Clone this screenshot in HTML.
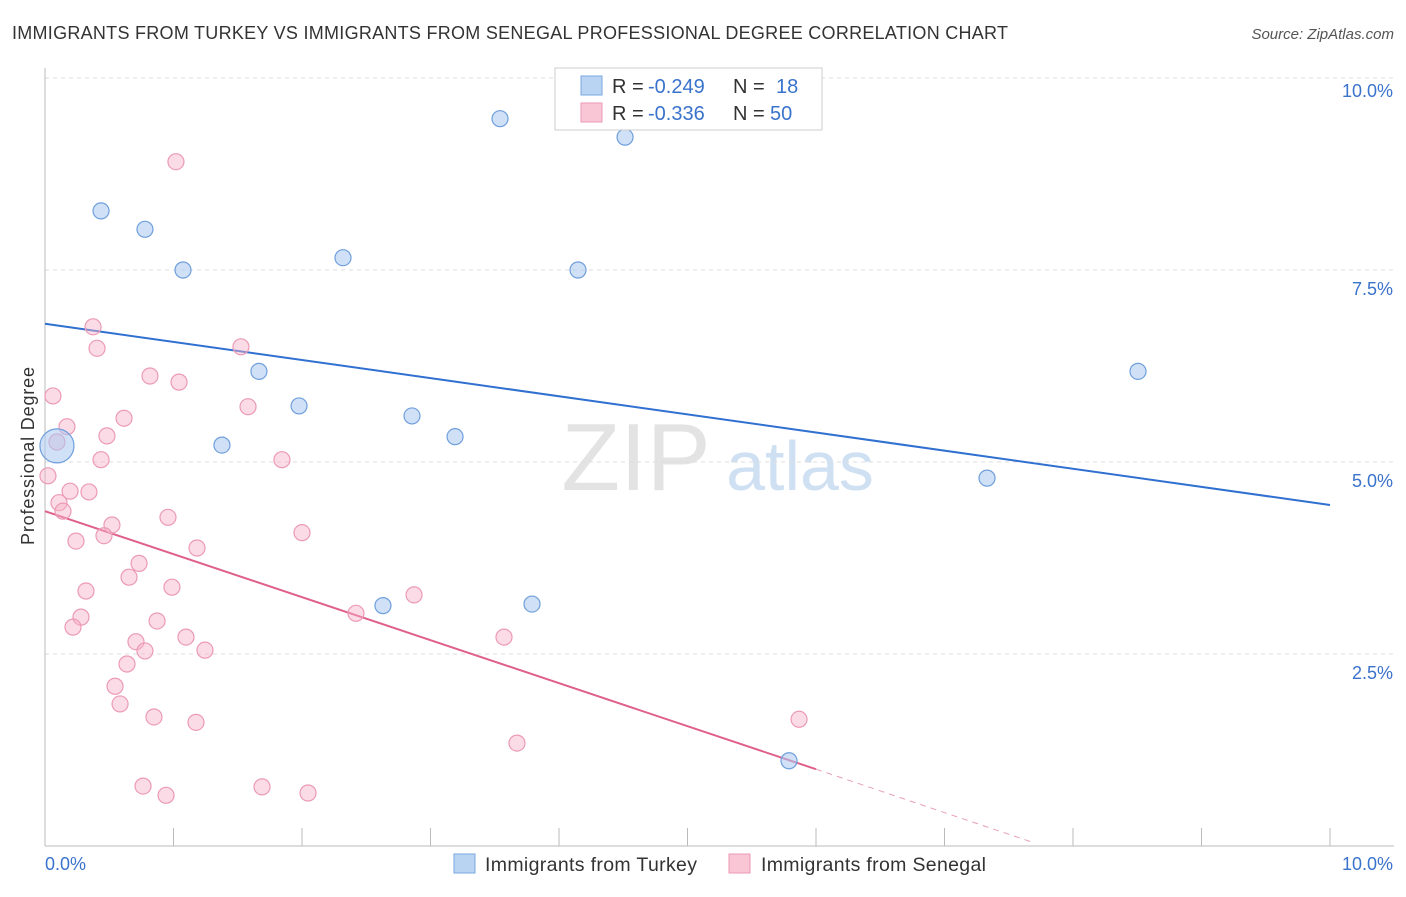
<!DOCTYPE html>
<html><head><meta charset="utf-8"><style>
body{margin:0;background:#fff;font-family:"Liberation Sans",sans-serif;}
svg text{font-family:"Liberation Sans",sans-serif;}
</style></head><body>
<svg id="chart" width="1406" height="892" xmlns="http://www.w3.org/2000/svg">
<text x="12" y="39" font-size="18" fill="#333" textLength="996">IMMIGRANTS FROM TURKEY VS IMMIGRANTS FROM SENEGAL PROFESSIONAL DEGREE CORRELATION CHART</text>
<text x="1394" y="39" font-size="15" fill="#555" font-style="italic" text-anchor="end">Source: ZipAtlas.com</text>
<text x="0" y="0" font-size="18" fill="#333" textLength="178" transform="translate(34 545) rotate(-90)">Professional Degree</text>
<g><text x="636" y="490" font-size="96" fill="#d8d8d8" text-anchor="middle" font-family="Liberation Serif" opacity="0.7">ZIP</text><text x="800" y="490" font-size="70" fill="#bcd3ee" text-anchor="middle" opacity="0.7">atlas</text></g>
<g id="grid"></g><g id="axes"></g><g id="lines"></g><g id="pts"></g>
<g>
<rect x="555" y="68" width="267" height="62" fill="#fff" stroke="#ccc"/>
<rect x="581" y="76" width="21" height="19" fill="#b9d3f3" stroke="#7aa7e0"/>
<rect x="581" y="103" width="21" height="19" fill="#f9c6d6" stroke="#ec9ab5"/>
<text x="612" y="93" font-size="20" fill="#333">R =</text>
<text x="648" y="93" font-size="20" fill="#3a73cc">-0.249</text>
<text x="733" y="93" font-size="20" fill="#333">N =</text>
<text x="776" y="93" font-size="20" fill="#3a73cc">18</text>
<text x="612" y="120" font-size="20" fill="#333">R =</text>
<text x="648" y="120" font-size="20" fill="#3a73cc">-0.336</text>
<text x="733" y="120" font-size="20" fill="#333">N =</text>
<text x="770" y="120" font-size="20" fill="#3a73cc">50</text>
</g>
<g>
<rect x="454" y="854" width="21" height="19" fill="#b9d3f3" stroke="#7aa7e0"/>
<text x="485" y="871" font-size="19.5" fill="#333" textLength="212">Immigrants from Turkey</text>
<rect x="729" y="854" width="21" height="19" fill="#f9c6d6" stroke="#ec9ab5"/>
<text x="761" y="871" font-size="19.5" fill="#333" textLength="225">Immigrants from Senegal</text>
</g>
</svg>
<script>
const yTicks=[2.5,5.0,7.5,10.0];
const yTickLabels=["2.5%","5.0%","7.5%","10.0%"];
const xTickLabels=["0.0%","10.0%"];
const turkeyX=[0.436,0.778,1.074,2.319,3.541,4.148,4.514,1.665,1.977,2.856,3.191,1.377,7.331,8.506,2.630,3.790,5.790];
const turkeyY=[8.27,8.03,7.50,7.66,9.47,7.50,9.23,6.18,5.73,5.60,5.33,5.22,4.79,6.18,3.13,3.15,1.11];
const turkeyBig=[0.093,5.21];
const senegalX=[1.019,0.374,0.405,1.525,0.817,1.043,0.062,1.580,0.615,0.171,0.482,0.093,0.436,1.844,0.023,0.195,0.342,0.109,0.140,0.957,0.521,0.459,0.241,2.000,1.183,0.732,0.654,0.988,0.319,2.872,0.280,2.420,0.872,0.218,1.097,0.708,3.572,0.778,1.245,0.638,0.545,0.584,0.848,1.175,5.868,3.673,0.763,0.942,1.689,2.047];
const senegalY=[8.91,6.76,6.48,6.50,6.12,6.04,5.86,5.72,5.57,5.46,5.34,5.26,5.03,5.03,4.82,4.62,4.61,4.47,4.36,4.28,4.18,4.04,3.97,4.08,3.88,3.68,3.50,3.37,3.32,3.27,2.98,3.03,2.93,2.85,2.72,2.66,2.72,2.54,2.55,2.37,2.08,1.85,1.68,1.61,1.65,1.34,0.78,0.66,0.77,0.69];
const turkeyTrend=[6.80,4.44];
const senegalTrend=[4.36,1.00];
const senegalTrendEndX=6.0, senegalDashEnd=[7.70,0.04];
const NS="http://www.w3.org/2000/svg";
const X=v=>45+v*128.5, Y=v=>846-v*76.8;
function mk(tag,attrs,parent){const e=document.createElementNS(NS,tag);for(const k in attrs)e.setAttribute(k,attrs[k]);document.getElementById(parent).appendChild(e);return e;}
mk('line',{x1:45,y1:Y(10),x2:1394,y2:Y(10),stroke:'#ddd','stroke-dasharray':'4 4'},'grid');
yTicks.forEach((t,i)=>{
 if(i<3){const g=mk('line',{x1:45,y1:Y(t),x2:1394,y2:Y(t),stroke:'#ddd','stroke-dasharray':'4 4'},'grid');
 
 }
 const l=mk('text',{x:1393,y:Y(t)+(i==3?25:31)-6,'font-size':18,fill:'#3a73cc','text-anchor':'end'},'axes');l.textContent=yTickLabels[i];
 
 
});
const ax=mk('line',{x1:45,y1:68,x2:45,y2:846,stroke:'#bbb'},'axes');


const bx=mk('line',{x1:45,y1:846,x2:1394,y2:846,stroke:'#bbb'},'axes');


for(let i=1;i<=10;i++){const t=mk('line',{x1:X(i),y1:828,x2:X(i),y2:846,stroke:'#bbb'},'axes');
 
 }
const xl0=mk('text',{x:45,y:870,'font-size':18,fill:'#3a73cc'},'axes');xl0.textContent=xTickLabels[0];


const xl1=mk('text',{x:1393,y:870,'font-size':18,fill:'#3a73cc','text-anchor':'end'},'axes');xl1.textContent=xTickLabels[1];


const tb=mk('line',{x1:X(0),y1:Y(turkeyTrend[0]),x2:X(10),y2:Y(turkeyTrend[1]),stroke:'#3070d0','stroke-width':2},'lines');


const tp=mk('line',{x1:X(0),y1:Y(senegalTrend[0]),x2:X(senegalTrendEndX),y2:Y(senegalTrend[1]),stroke:'#e0608c','stroke-width':2},'lines');


const td=mk('line',{x1:X(senegalTrendEndX),y1:Y(senegalTrend[1]),x2:X(senegalDashEnd[0]),y2:Y(senegalDashEnd[1]),stroke:'#e8a0b8','stroke-width':1,'stroke-dasharray':'6 5'},'lines');


senegalX.forEach((x,i)=>{const c=mk('circle',{cx:X(x),cy:Y(senegalY[i]),r:8,fill:'rgba(246,178,200,0.45)',stroke:'#ec9ab5','stroke-width':1.2},'pts');
 
 });
turkeyX.forEach((x,i)=>{const c=mk('circle',{cx:X(x),cy:Y(turkeyY[i]),r:8,fill:'rgba(170,200,240,0.55)',stroke:'#6f9fdc','stroke-width':1.2},'pts');
 
 });
const big=mk('circle',{cx:X(turkeyBig[0]),cy:Y(turkeyBig[1]),r:17,fill:'rgba(170,200,240,0.55)',stroke:'#6f9fdc','stroke-width':1.2},'pts');


</script>
</body></html>
